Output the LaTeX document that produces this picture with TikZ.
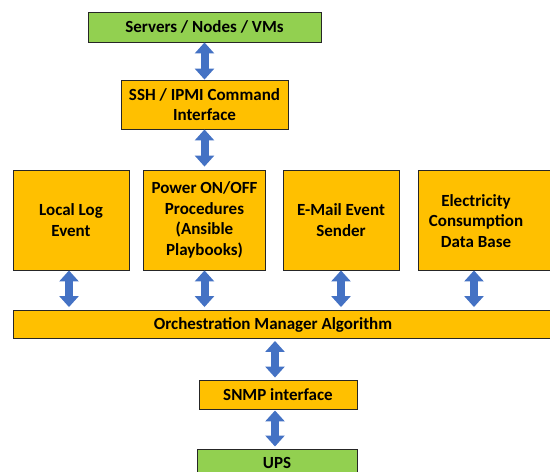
\documentclass[tikz,border=0pt]{standalone}
\usepackage{fontspec}
\setmainfont{Carlito}
\usetikzlibrary{arrows.meta}
\definecolor{boxorange}{HTML}{FFC000}
\definecolor{boxgreen}{HTML}{92D050}
\definecolor{arrblue}{HTML}{4472C4}
\definecolor{boxline}{HTML}{262626}
\begin{document}
\begin{tikzpicture}[x=1pt,y=-1pt,
  box/.style={draw=boxline, line width=0.9pt, rectangle, inner sep=0pt, align=center,
    font=\bfseries\fontsize{17}{20.5}\selectfont},
  orangebox/.style={box, fill=boxorange},
  greenbox/.style={box, fill=boxgreen},
  lbl/.style={inner sep=0pt, align=center, font=\bfseries\fontsize{17}{20.5}\selectfont},
  dblarrow/.style={draw=arrblue, line width=8pt,
    {Triangle[width=19pt,length=11pt]}-{Triangle[width=19pt,length=11pt]}}
]
\useasboundingbox (0,0) rectangle (550,472);
\clip (0,0) rectangle (550,472);
% top
\node[greenbox, minimum width=233, minimum height=30] (servers) at (204.5,27) {Servers / Nodes / VMs};
\node[orangebox, minimum width=167, minimum height=49] (ssh) at (204.5,104.5) {SSH / IPMI Command\\Interface};
% middle row
\node[orangebox, minimum width=116, minimum height=100] (loclog) at (71,220) {Local Log\\Event};
\node[orangebox, minimum width=122, minimum height=100] (power) at (204.5,220) {Power ON/OFF\\Procedures\\(Ansible\\Playbooks)};
\node[orangebox, minimum width=116, minimum height=100] (email) at (341,220) {E-Mail Event\\Sender};
\node[orangebox, minimum width=150, minimum height=100, anchor=west] (elec) at (418,220) {};
\node[lbl] (electxt) at (476,221) {Electricity\\Consumption\\Data Base};
% orchestration
\node[orangebox, minimum width=550, minimum height=28, anchor=west] (orch) at (13,324.5) {};
\node[lbl] (orchtxt) at (273,325) {Orchestration Manager Algorithm};
% bottom
\node[orangebox, minimum width=158, minimum height=29] (snmp) at (278,394.5) {SNMP interface};
\node[greenbox, minimum width=160, minimum height=40, anchor=north] (ups) at (277,448.5) {};
\node[lbl] (upstxt) at (277,463) {UPS};
% arrows
\draw[dblarrow] (servers.south) -- (ssh.north);
\draw[dblarrow, shorten >=3pt] (ssh.south) -- (power.north);
\draw[dblarrow, shorten >=3pt] ([xshift=-2pt]loclog.south) -- ([xshift=-2pt]loclog.south |- orch.north);
\draw[dblarrow, shorten >=3pt] (power.south) -- (power.south |- orch.north);
\draw[dblarrow, shorten >=3pt] (email.south) -- (email.south |- orch.north);
\draw[dblarrow, shorten >=3pt] ([xshift=56pt]elec.south west) -- ([xshift=56pt]elec.south west |- orch.north);
\draw[dblarrow, shorten <=2pt, shorten >=2pt] ([xshift=-3pt]snmp.north |- orch.south) -- ([xshift=-3pt]snmp.north);
\draw[dblarrow, shorten <=1pt, shorten >=2pt] ([xshift=-3pt]snmp.south) -- ([xshift=-3pt]snmp.south |- ups.north);
\end{tikzpicture}
\end{document}
